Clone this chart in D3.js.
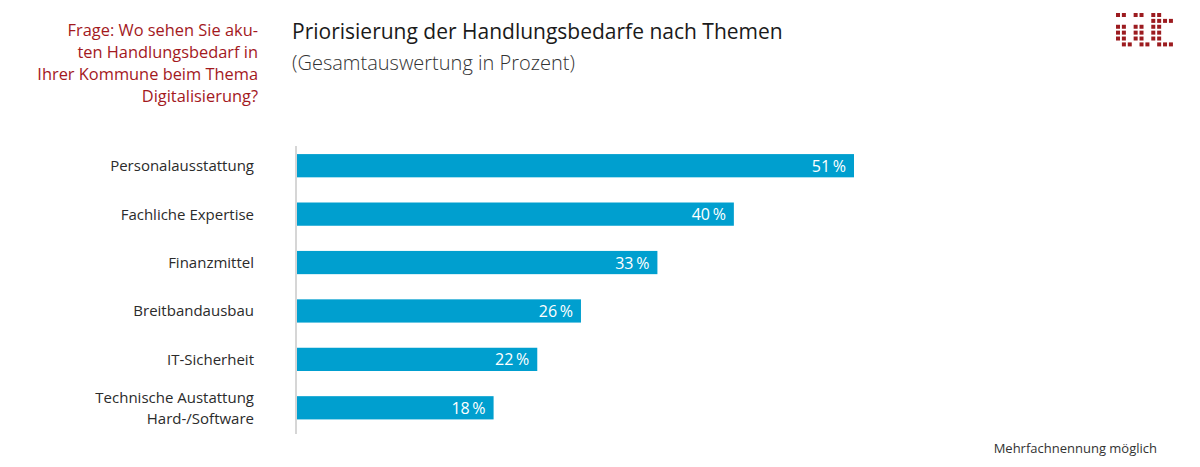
<!DOCTYPE html>
<html>
<head>
<meta charset="utf-8">
<script src="https://cdn.jsdelivr.net/npm/d3@7"></script>
<style>
  body { margin: 0; background: #fff; }
  text { font-family: "Open Sans", "Noto Sans", sans-serif; }
</style>
</head>
<body>
<div id="chart-area"></div>
<script>
// data
const categories = [
  'Personalausstattung',
  'Fachliche Expertise',
  'Finanzmittel',
  'Breitbandausbau',
  'IT-Sicherheit',
  'Technische Austattung\nHard-/Software'
];
const values = [51, 40, 33, 26, 22, 18];

const questionLines = [
  'Frage: Wo sehen Sie aku-',
  'ten Handlungsbedarf in',
  'Ihrer Kommune beim Thema',
  'Digitalisierung?'
];
const title = 'Priorisierung der Handlungsbedarfe nach Themen';
const subtitle = '(Gesamtauswertung in Prozent)';
const footnote = 'Mehrfachnennung möglich';

// logo cells (row, col)
const logoCells = [
  [0,0],[0,1],[0,3],[0,4],[0,6],[0,7],
  [1,6],[1,7],[1,8],[1,9],
  [2,0],[2,1],[2,3],[2,4],[2,6],[2,7],
  [3,0],[3,1],[3,3],[3,4],[3,6],[3,7],
  [4,0],[4,1],[4,3],[4,4],[4,6],[4,7],
  [5,1],[5,2],[5,4],[5,5],[5,7],[5,8],[5,9]
];

const W = 1200, H = 467;
const data = categories.map((c, i) => ({ cat: c, value: values[i] }));

const svg = d3.select('#chart-area').append('svg')
  .attr('width', W)
  .attr('height', H);

// question (left, red)
svg.append('text')
  .attr('text-anchor', 'end')
  .attr('fill', '#a3191e')
  .attr('font-size', '16.4px')
  .selectAll('tspan')
  .data(questionLines)
  .join('tspan')
    .attr('x', 258)
    .attr('y', (d, i) => 36 + i * 22)
    .text(d => d);

// title + subtitle
svg.append('text')
  .attr('x', 292)
  .attr('y', 39)
  .attr('font-size', '21px')
  .attr('fill', '#1a1a1a')
  .text(title);

svg.append('text')
  .attr('x', 292)
  .attr('y', 70)
  .attr('font-size', '20px')
  .attr('fill', '#333')
  .attr('font-weight', 300)
  .text(subtitle);

// logo
svg.append('g')
  .attr('transform', 'translate(1116,13)')
  .selectAll('rect')
  .data(logoCells)
  .join('rect')
    .attr('x', d => d[1] * 5.88)
    .attr('y', d => d[0] * 5.88)
    .attr('width', 4)
    .attr('height', 4)
    .attr('fill', '#9c1b1f');

// scales
const x = d3.scaleLinear()
  .domain([0, 51])
  .range([297, 854]);

const y = d3.scaleBand()
  .domain(categories)
  .range([141.5, 432])
  .paddingInner(0.52)
  .paddingOuter(0.26);

// axis line
svg.append('line')
  .attr('x1', 296).attr('x2', 296)
  .attr('y1', 146).attr('y2', 434)
  .attr('stroke', '#c8c8c8')
  .attr('stroke-width', 1.5);

// bars
svg.selectAll('rect.bar')
  .data(data)
  .join('rect')
    .attr('class', 'bar')
    .attr('x', x(0))
    .attr('y', d => y(d.cat))
    .attr('width', d => x(d.value) - x(0))
    .attr('height', y.bandwidth())
    .attr('fill', '#009fcf');

// value labels
svg.selectAll('text.val')
  .data(data)
  .join('text')
    .attr('class', 'val')
    .attr('x', d => x(d.value) - 8)
    .attr('y', d => y(d.cat) + y.bandwidth() / 2 + 6)
    .attr('text-anchor', 'end')
    .attr('fill', '#fff')
    .attr('font-size', '16px')
    .text(d => d.value + '\u2009%');

// category labels
const catLabels = svg.selectAll('text.cat')
  .data(data)
  .join('text')
    .attr('class', 'cat')
    .attr('text-anchor', 'end')
    .attr('fill', '#2b2b2b')
    .attr('font-size', '15px');

catLabels.each(function(d) {
  const lines = d.cat.split('\n');
  const cy = y(d.cat) + y.bandwidth() / 2;
  d3.select(this).selectAll('tspan')
    .data(lines)
    .join('tspan')
      .attr('x', 254)
      .attr('y', (l, i) => cy + 5.5 + (i - (lines.length - 1) / 2) * 21)
      .text(l => l);
});

// footnote
svg.append('text')
  .attr('x', 1157)
  .attr('y', 453)
  .attr('text-anchor', 'end')
  .attr('font-size', '13px')
  .attr('fill', '#333')
  .text(footnote);
</script>
</body>
</html>
